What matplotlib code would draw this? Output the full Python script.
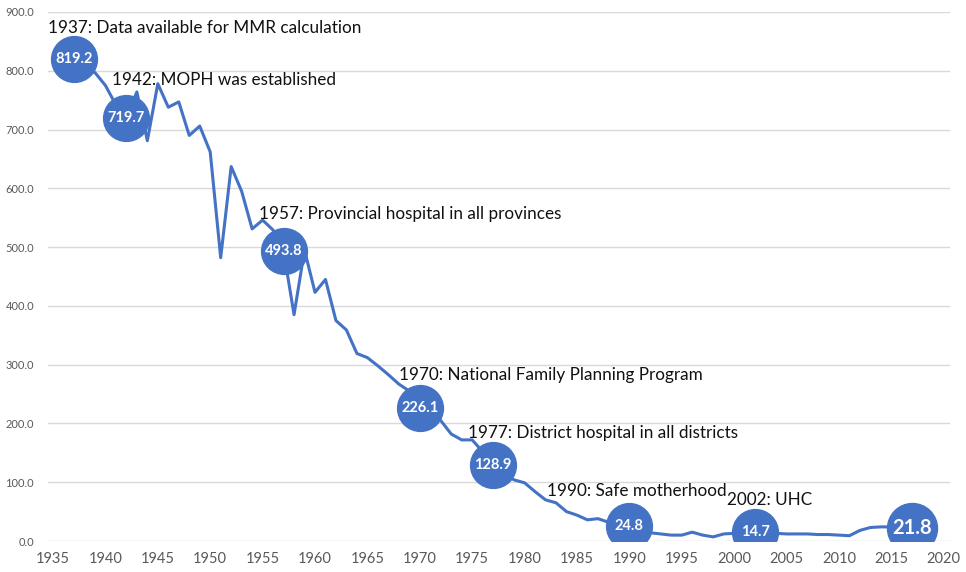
import matplotlib
matplotlib.use("Agg")
from matplotlib import pyplot as plt

plt.rcParams['font.family'] = ['Lato', 'DejaVu Sans']

# maternal mortality ratio, Thailand 1937-2017
years = list(range(1937, 2018))
mmr = [819.2, 800, 797, 775, 742, 719.7, 764, 681, 778, 738,
       747, 690, 706, 662, 482, 637, 595, 531, 546, 529,
       493.8, 385, 495, 423, 445, 375, 359, 319, 312, 298,
       283, 267, 255, 226.1, 218, 205, 182, 172, 172, 152,
       128.9, 114, 104, 99, 84, 70, 65, 50, 44, 36,
       38, 32, 28, 24.8, 17, 14, 12, 10, 10, 15,
       10, 7, 12, 13, 14, 14.7, 13, 13, 12, 12,
       12, 11, 11, 10, 9, 18, 23, 24, 24, 23,
       21.8]

events = [
    (1937, "1937: Data available for MMR calculation"),
    (1942, "1942: MOPH was established"),
    (1957, "1957: Provincial hospital in all provinces"),
    (1970, "1970: National Family Planning Program"),
    (1977, "1977: District hospital in all districts"),
    (1990, "1990: Safe motherhood"),
    (2002, "2002: UHC"),
]
# where each event caption starts (year, value)
captionPos = [(1934.5, 872), (1940.6, 784), (1954.7, 557), (1968.0, 282), (1974.6, 184), (1982.1, 85), (1999.3, 70)]
bubbleYears = [1937, 1942, 1957, 1970, 1977, 1990, 2002, 2017]

blue = "#4472C4"

fig = plt.figure(figsize=(9.66, 5.72), dpi=100)
ax = fig.add_axes([48 / 966, 31 / 572, 902 / 966, 529 / 572])

ax.plot(years, mmr, color=blue, linewidth=2.2, zorder=3)

for y in bubbleYears:
    v = mmr[years.index(y)]
    big = (y == 2017)
    ax.plot(y, v, "o", color=blue, markersize=36 if big else 33, zorder=4)
    ax.text(y, v, "%.1f" % v, color="white", ha="center", va="center",
            fontsize=14.5 if big else 10.5, fontweight="bold", zorder=5)

for (y, txt), (cx, cy) in zip(events, captionPos):
    ax.text(cx, cy, txt, fontsize=12.3, color="#111111", ha="left", va="center", zorder=6)

ax.set_xlim(1934.52, 2020.6)
ax.set_ylim(0, 900)
ax.set_xticks(range(1935, 2021, 5))
ax.set_yticks(range(0, 901, 100))
ax.set_yticklabels(["%.1f" % t for t in range(0, 901, 100)])
ax.tick_params(axis="x", length=0, labelsize=10.5, colors="#595959", pad=8)
ax.tick_params(axis="y", length=0, labelsize=8, colors="#595959", pad=10)
ax.grid(axis="y", color="#d9d9d9", linewidth=1.0)
ax.set_axisbelow(True)
for s in ax.spines.values():
    s.set_visible(False)

fig.savefig("out.png", dpi=100)
